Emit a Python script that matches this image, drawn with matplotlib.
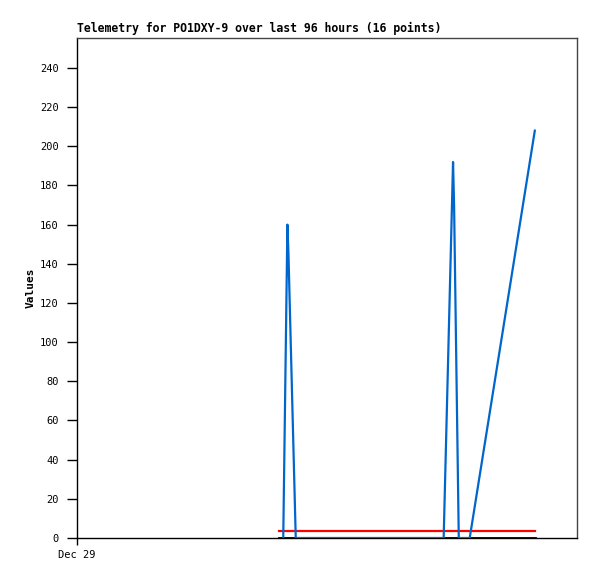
import matplotlib
matplotlib.use("Agg")
import matplotlib.pyplot as plt

# hours since Dec 29 00:00
blue_t = [39.6, 40.4, 40.6, 42.0, 70.4, 72.2, 72.4, 73.3, 75.4, 87.9]
blue_v = [0, 160, 145, 0, 0, 192, 170, 0, 0, 208]
red_t = [38.8, 87.9]
red_v = [3.6, 3.6]
black_t = [38.8, 87.9]
black_v = [0, 0]

yticks = [0, 20, 40, 60, 80, 100, 120, 140, 160, 180, 200, 220, 240]
xticks = [0]
xticklabels = ["Dec 29"]

plt.rcParams['font.family'] = ['DejaVu Sans Mono']

fig = plt.figure(figsize=(5.97, 5.79), dpi=100)
ax = fig.add_axes([77 / 597, 41 / 579, 500 / 597, 500 / 579])

ax.plot(black_t, black_v, color="black", lw=2, zorder=2)
ax.plot(red_t, red_v, color="#ff0000", lw=1.6, zorder=3)
ax.plot(blue_t, blue_v, color="#0066cc", lw=1.6, zorder=4)

ax.set_xlim(0, 96)
ax.set_ylim(0, 255.3)
ax.set_yticks(yticks)
ax.set_yticklabels([str(v) for v in yticks], fontsize=7.5)
ax.set_xticks(xticks)
ax.set_xticklabels(xticklabels, fontsize=7.5)
ax.tick_params(axis="y", direction="out", length=7, width=1, pad=6)
ax.tick_params(axis="x", direction="out", length=5, width=1, pad=4)

for s in ["left", "bottom"]:
    ax.spines[s].set_color("black")
    ax.spines[s].set_linewidth(1)
for s in ["top", "right"]:
    ax.spines[s].set_color("#444444")
    ax.spines[s].set_linewidth(1)

ax.set_ylabel("Values", fontsize=8, fontweight="bold", labelpad=3)
ax.set_title("Telemetry for PO1DXY-9 over last 96 hours (16 points)",
             fontsize=8.3, fontweight="bold", loc="left", pad=4)

fig.savefig("out.png", dpi=100)
